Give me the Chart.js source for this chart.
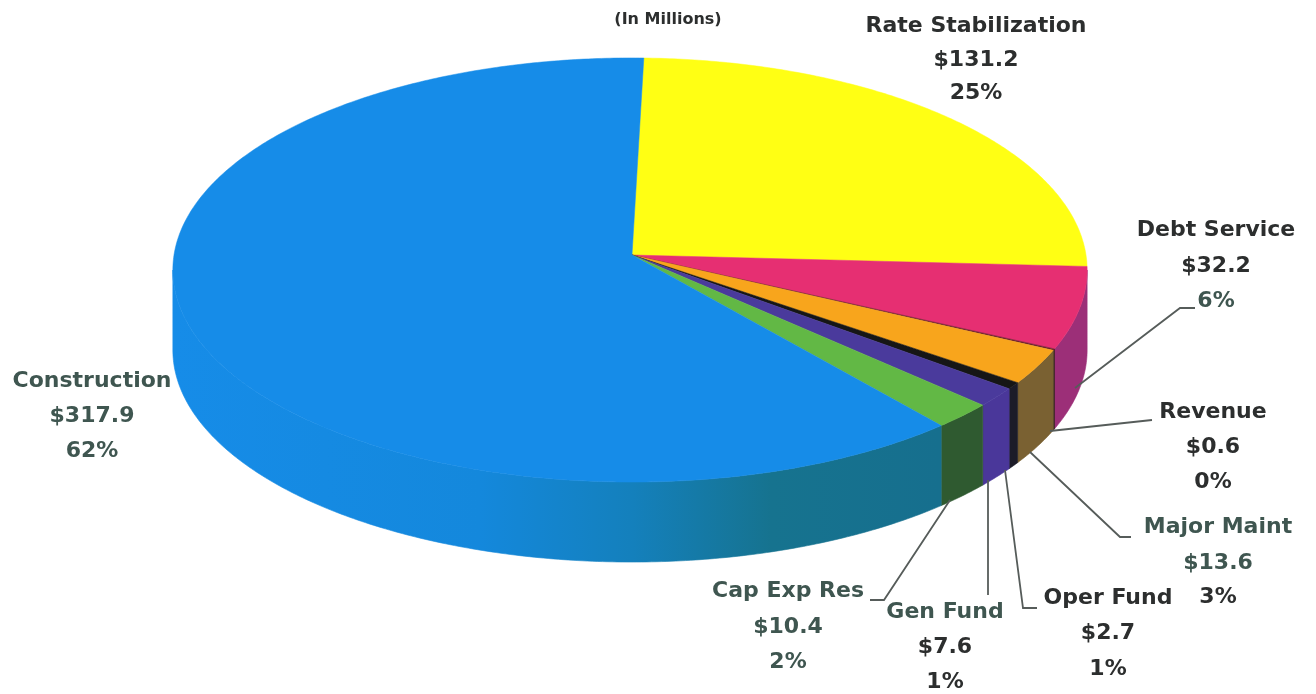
<!DOCTYPE html>
<html>
<head>
<meta charset="utf-8">
<style>
  html, body { margin: 0; padding: 0; background: #ffffff; }
  #wrap { width: 1316px; height: 694px; }
</style>
<script src="https://cdn.jsdelivr.net/npm/chart.js@4/dist/chart.umd.min.js"></script>
</head>
<body>
<div id="wrap"><canvas id="pie" width="1316" height="694"></canvas></div>
<script>
// Fund balances, in millions, clockwise from twelve o'clock.
const categories = ['Rate Stabilization', 'Debt Service', 'Revenue', 'Major Maint', 'Oper Fund', 'Gen Fund', 'Cap Exp Res', 'Construction'];
const balances = [131.2, 32.2, 0.6, 13.6, 2.7, 7.6, 10.4, 317.9];
const percentLabels = ['25%', '6%', '0%', '3%', '1%', '1%', '2%', '62%'];

const topColors = ['#FFFF14', '#E62F72', '#6B1F2A', '#F8A51C', '#161616', '#4A3A9C', '#62B845', '#168CE8'];
const sideColors = ['#A8A010', '#9C2F78', '#2E1A14', '#7A6132', '#1C1C28', '#4A379A', '#2F5A30', null];

const INK = '#2C2E2E';
const GREEN_INK = '#3F5650';

// Label blocks: centre x, the y of each of the three lines, and line colours.
const labelBlocks = [
  { x: 976,  y: [26, 60, 93],    c: [INK, INK, INK] },
  { x: 1216, y: [230, 266, 301], c: [INK, INK, GREEN_INK] },
  { x: 1213, y: [412, 447, 482], c: [INK, INK, INK] },
  { x: 1218, y: [527, 563, 597], c: [GREEN_INK, GREEN_INK, INK] },
  { x: 1108, y: [598, 633, 669], c: [INK, INK, INK] },
  { x: 945,  y: [612, 647, 682], c: [GREEN_INK, INK, INK] },
  { x: 788,  y: [591, 627, 662], c: [GREEN_INK, GREEN_INK, GREEN_INK] },
  { x: 92,   y: [381, 416, 451], c: [GREEN_INK, GREEN_INK, GREEN_INK] }
];

// Leader lines from a label to the wall of its slice.
const leaders = [
  [[1075, 388], [1180, 308], [1195, 308]],
  [[1050, 431], [1152, 420]],
  [[1030, 452], [1120, 537], [1131, 537]],
  [[1005, 470], [1023, 608], [1037, 608]],
  [[988, 480], [988, 595]],
  [[950, 500], [884, 600], [870, 600]]
];

// Tilted disc: a circle under a mild perspective, plus a vertical wall.
const disc = { cx: 632, cy: 255, aLeft: 458, aRight: 454, b: 211, k: 0.0707, depth: 80 };

function project(angle, drop) {
  const u = Math.cos(angle), v = Math.sin(angle);
  const w = 1 - disc.k * v;
  const a = u < 0 ? disc.aLeft : disc.aRight;
  return { x: disc.cx + a * u / w, y: disc.cy + disc.b * v / w + (drop || 0) };
}

function traceRim(ctx, from, to, drop, first) {
  const steps = Math.max(2, Math.ceil(Math.abs(to - from) / 0.01));
  for (let i = 0; i <= steps; i++) {
    const p = project(from + (to - from) * i / steps, drop);
    if (i === 0 && first) ctx.moveTo(p.x, p.y); else ctx.lineTo(p.x, p.y);
  }
}

function wallGradient(ctx) {
  const g = ctx.createLinearGradient(173, 0, 940, 0);
  g.addColorStop(0, '#168CE8');
  g.addColorStop(0.4, '#1488DC');
  g.addColorStop(0.6, '#1480BC');
  g.addColorStop(0.78, '#16738F');
  g.addColorStop(1, '#166F8E');
  return g;
}

const disc3d = {
  id: 'disc3d',
  beforeDatasetDraw(chart, args) {
    const ctx = chart.ctx;
    const arcs = chart.getDatasetMeta(args.index).data;
    // The wall is visible only along the near half of the rim.
    const wallFrom = Math.asin(disc.k), wallTo = Math.PI - wallFrom;
    ctx.save();
    arcs.forEach((arc, i) => {
      const from = Math.max(arc.startAngle, wallFrom);
      const to = Math.min(arc.endAngle, wallTo);
      if (to <= from) return;
      ctx.beginPath();
      traceRim(ctx, from, to, 0, true);
      traceRim(ctx, to, from, disc.depth, false);
      ctx.closePath();
      const fill = sideColors[i] || wallGradient(ctx);
      ctx.fillStyle = fill;
      ctx.strokeStyle = fill;
      ctx.lineWidth = 0.6;
      ctx.fill();
      ctx.stroke();
    });
    arcs.forEach((arc, i) => {
      ctx.beginPath();
      ctx.moveTo(disc.cx, disc.cy);
      traceRim(ctx, arc.startAngle, arc.endAngle, 0, false);
      ctx.closePath();
      ctx.fillStyle = topColors[i];
      ctx.strokeStyle = topColors[i];
      ctx.lineWidth = 0.5;
      ctx.fill();
      ctx.stroke();
    });
    ctx.restore();
    return false;
  },
  afterDatasetsDraw(chart) {
    const ctx = chart.ctx;
    ctx.save();
    ctx.strokeStyle = '#565C5A';
    ctx.lineWidth = 1.8;
    leaders.forEach(line => {
      ctx.beginPath();
      line.forEach((p, i) => (i ? ctx.lineTo(p[0], p[1]) : ctx.moveTo(p[0], p[1])));
      ctx.stroke();
    });
    ctx.textAlign = 'center';
    ctx.textBaseline = 'middle';
    ctx.font = 'bold 22px "DejaVu Sans"';
    categories.forEach((name, i) => {
      const block = labelBlocks[i];
      const lines = [name, '$' + balances[i].toFixed(1), percentLabels[i]];
      lines.forEach((text, j) => {
        ctx.fillStyle = block.c[j];
        ctx.fillText(text, block.x, block.y[j]);
      });
    });
    ctx.font = 'bold 16px "DejaVu Sans"';
    ctx.fillStyle = INK;
    ctx.fillText('(In Millions)', 668, 20);
    ctx.restore();
  }
};

new Chart(document.getElementById('pie'), {
  type: 'pie',
  data: {
    labels: categories,
    datasets: [{ data: balances, backgroundColor: topColors, borderWidth: 0 }]
  },
  options: {
    responsive: false,
    animation: false,
    rotation: 1.6,
    events: [],
    plugins: { legend: { display: false }, tooltip: { enabled: false } }
  },
  plugins: [disc3d]
});
</script>
</body>
</html>
